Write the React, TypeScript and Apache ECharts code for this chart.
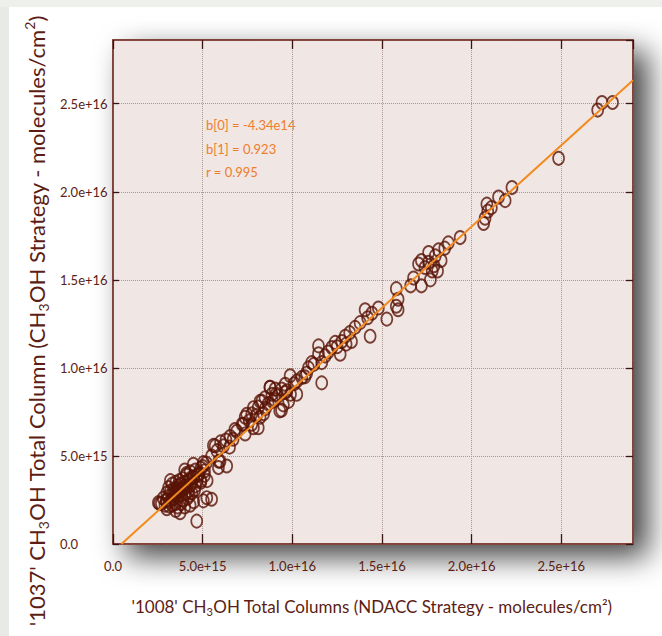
import React, { useEffect, useRef } from "react";
import * as echarts from "echarts";

// values in units of 1e15 molecules/cm2 : [NDACC '1008', CH3OH strategy '1037']
const SCALE = 1e15;
const clusterLow: number[][] = [
  [2.53, 2.35], [2.6, 2.3], [3.0, 2.0], [2.7, 2.3], [2.8, 2.6], [2.9, 2.2], [3.0, 2.5], [3.0, 2.9],
  [3.1, 2.7], [3.1, 3.2], [3.2, 2.4], [3.2, 3.0], [3.3, 2.8], [3.3, 3.4], [3.4, 2.6], [3.4, 3.1],
  [3.5, 2.9], [3.5, 3.5], [3.6, 2.7], [3.6, 3.3], [3.7, 3.0], [3.7, 3.6], [3.8, 2.8], [3.8, 3.4],
  [3.9, 3.1], [3.9, 3.7], [4.0, 2.9], [4.0, 3.5], [4.1, 3.2], [4.1, 3.9], [4.2, 3.0], [4.2, 3.6],
  [4.3, 3.3], [4.3, 4.1], [4.4, 3.5], [4.4, 2.9], [4.5, 3.8], [4.6, 3.3], [4.6, 4.2], [4.7, 3.6],
  [4.8, 4.0], [4.9, 3.5], [5.0, 4.4], [5.1, 3.9], [5.2, 4.6], [3.5, 2.3], [3.9, 2.5], [3.2, 3.6],
  [4.0, 4.2], [3.5, 1.9], [4.0, 2.1], [4.5, 2.4], [4.3, 2.2], [3.74, 1.78], [4.67, 1.3],
  [5.23, 2.63], [5.5, 2.54], [5.04, 2.45], [5.04, 4.62], [4.9, 4.3], [5.1, 4.15], [4.48, 4.53],
  [4.9, 3.6], [5.25, 3.6], [4.5, 3.8], [4.1, 4.0], [5.7, 5.57], [5.8, 5.3], [5.97, 4.7],
  [6.34, 4.43], [5.88, 4.34], [5.9, 4.7], [6.16, 5.57], [6.3, 5.9], [6.7, 5.95], [6.53, 6.1],
  [5.5, 5.0], [5.6, 5.6], [6.0, 5.8], [6.5, 5.5], [3.3, 2.2], [3.6, 2.1], [3.8, 2.3],
  [3.45, 2.75], [3.65, 3.05], [3.85, 3.15], [4.05, 3.3], [4.25, 2.75], [4.35, 3.75], [4.55, 3.05],
  [3.25, 2.55], [3.55, 3.15], [4.15, 2.6], [4.75, 3.9], [2.95, 2.45], [3.15, 2.15],
];
const clusterMid: number[][] = [
  [6.8, 6.5], [6.9, 6.4], [7.2, 6.8], [7.27, 6.8], [7.37, 7.2], [7.46, 7.37], [7.74, 7.39],
  [7.83, 7.74], [7.83, 6.6], [7.74, 6.8], [8.1, 6.6], [7.37, 6.25], [8.2, 7.2], [8.1, 7.77],
  [8.2, 8.1], [8.3, 8.1], [8.48, 8.3], [8.65, 7.96], [8.75, 8.9], [8.76, 8.9], [8.86, 8.5],
  [9.04, 8.8], [9.1, 8.5], [9.2, 8.4], [9.3, 7.56], [9.4, 7.6], [9.4, 8.8], [9.5, 7.9],
  [9.6, 9.07], [9.8, 8.1], [9.88, 9.55], [9.9, 8.5], [10.1, 9.1], [10.25, 9.26], [10.25, 8.5],
  [10.53, 9.46], [10.8, 9.7], [10.9, 10.0], [11.08, 10.3], [11.46, 10.8], [11.46, 11.25],
  [11.64, 10.3], [11.64, 9.15], [11.83, 10.68], [12.2, 11.16], [12.39, 11.45], [12.67, 10.78],
  [12.76, 11.5], [12.95, 11.8], [13.0, 11.35], [13.2, 12.0], [13.3, 11.5], [13.5, 12.3],
  [13.78, 12.57], [14.06, 13.3], [14.2, 12.85], [14.34, 11.8], [14.44, 13.1], [14.8, 13.4],
  [15.27, 12.77], [15.8, 14.5], [15.9, 13.9], [15.8, 13.5], [15.9, 13.3], [11.2, 10.2],
  [12.0, 10.9], [12.5, 11.2], [10.7, 9.5], [9.7, 8.7], [8.9, 8.1], [8.0, 7.3], [8.5, 7.7],
  [9.0, 8.2], [9.6, 8.6], [8.4, 7.4], [7.6, 7.0],
];
const clusterHigh: number[][] = [
  [16.6, 14.66], [16.76, 15.1], [17.04, 15.9], [17.2, 16.1], [17.2, 14.66], [17.4, 15.7],
  [17.6, 16.55], [17.6, 16.0], [17.7, 15.0], [17.8, 15.5], [17.9, 15.8], [17.97, 16.36],
  [18.1, 15.5], [18.15, 16.7], [18.3, 16.1], [18.5, 16.8], [18.7, 17.1], [19.36, 17.4],
  [20.67, 18.2], [20.75, 18.5], [20.85, 19.3], [20.9, 18.9], [21.1, 19.1], [21.5, 19.7],
  [21.87, 19.5], [22.25, 20.24], [24.85, 21.9], [27.03, 24.64], [27.27, 25.07], [27.86, 25.07],
];
const xTicks = [0, 5, 10, 15, 20, 25];
const yTicks = [0, 5, 10, 15, 20, 25];
const X_MAX = 29.0;
const Y_MAX = 28.62;
const B0 = -4.34e14;
const B1 = 0.923;
const R = 0.995;

const fmt = (v: number) => (v === 0 ? "0.0" : v.toExponential(1));

export default function App() {
  const ref = useRef<HTMLDivElement>(null);
  useEffect(() => {
    document.body.style.margin = "0";
    const chart = echarts.init(ref.current!, undefined, { renderer: "svg" });
    const pts = [...clusterLow, ...clusterMid, ...clusterHigh].map((p) => [p[0] * SCALE, p[1] * SCALE]);
    const x0 = -B0 / B1;
    const x1 = X_MAX * SCALE;
    const fitLine = [[x0, 0], [x1, B0 + B1 * x1]];
    const interval = (xTicks[1] - xTicks[0]) * SCALE;
    const font = "Lato, 'Open Sans', sans-serif";
    const txt = "#5b1d14";
    const border = "#7b3a31";
    const axLine = { show: true, onZero: false, lineStyle: { color: border, width: 1.5 } };
    const tickStyle = { show: true, inside: true, lineStyle: { color: "#3a1410", width: 1.3 } };
    const split = { show: true, lineStyle: { color: "#ad9592", type: "dotted" as const, width: 1 } };
    chart.setOption({
      animation: false,
      backgroundColor: "#ffffff",
      grid: {
        left: 113, top: 40, right: 29, bottom: 92, show: true,
        backgroundColor: "#f0e6e4", borderColor: border, borderWidth: 1.5,
        shadowColor: "rgba(0,0,0,0.75)", shadowBlur: 30, shadowOffsetX: 14, shadowOffsetY: 12,
      },
      xAxis: [
        {
          type: "value", min: xTicks[0] * SCALE, max: X_MAX * SCALE, interval, position: "bottom",
          axisLine: axLine, axisTick: { ...tickStyle, length: 10 }, splitLine: split,
          axisLabel: { formatter: fmt, showMaxLabel: false, color: txt, fontSize: 13, fontFamily: font, margin: 15 },
        },
        {
          type: "value", min: xTicks[0] * SCALE, max: X_MAX * SCALE, interval, position: "top",
          axisLine: axLine, axisTick: { ...tickStyle, length: 9 }, splitLine: { show: false },
          axisLabel: { show: false },
        },
      ],
      yAxis: [
        {
          type: "value", min: yTicks[0] * SCALE, max: Y_MAX * SCALE, interval, position: "left",
          axisLine: axLine, axisTick: { ...tickStyle, length: 6 }, splitLine: split,
          axisLabel: { formatter: fmt, showMaxLabel: false, align: "left", color: txt, fontSize: 13, fontFamily: font, margin: 53 },
        },
        {
          type: "value", min: yTicks[0] * SCALE, max: Y_MAX * SCALE, interval, position: "right",
          axisLine: axLine, axisTick: { ...tickStyle, length: 7 }, splitLine: { show: false },
          axisLabel: { show: false },
        },
      ],
      series: [
        {
          type: "scatter", data: pts, symbol: "circle", symbolSize: [11, 13],
          itemStyle: { color: "rgba(0,0,0,0)", borderColor: "#5a1406", borderWidth: 1.8 },
          z: 2,
        },
        {
          type: "line", data: fitLine, showSymbol: false, symbol: "none",
          lineStyle: { color: "#f28a1e", width: 2 }, z: 3,
        },
      ],
      graphic: [
        { type: "rect", shape: { x: 0, y: 0, width: 9, height: 636 }, style: { fill: "#e8eae6" }, z: -10 },
        { type: "rect", shape: { x: 0, y: 0, width: 662, height: 7 }, style: { fill: "#eef0ec" }, z: -10 },
        {
          type: "text", x: 206, y: 125,
          style: { text: `b[0] = ${B0.toExponential(2).replace("e+", "e")}`, fill: "#ef7d2c", fontSize: 13, fontFamily: font, textVerticalAlign: "middle" },
        },
        {
          type: "text", x: 206, y: 149,
          style: { text: `b[1] = ${B1}`, fill: "#ef7d2c", fontSize: 13, fontFamily: font, textVerticalAlign: "middle" },
        },
        {
          type: "text", x: 206, y: 172,
          style: { text: `r = ${R}`, fill: "#ef7d2c", fontSize: 13, fontFamily: font, textVerticalAlign: "middle" },
        },
        {
          type: "text", x: 372, y: 606,
          style: {
            text: "{n|'1008' CH}{s|3}{n|OH Total Columns (NDACC Strategy - molecules/cm²)}",
            textAlign: "center", textVerticalAlign: "middle",
            rich: {
              n: { fontSize: 17, fontFamily: font, fill: txt, lineHeight: 22, verticalAlign: "middle" },
              s: { fontSize: 11, fontFamily: font, fill: txt, lineHeight: 11, verticalAlign: "bottom" },
            },
          },
        },
        {
          type: "text", x: 36, y: 321, rotation: Math.PI / 2,
          style: {
            text: "{n|'1037' CH}{s|3}{n|OH Total Column (CH}{s|3}{n|OH Strategy - molecules/cm}{p|2}{n|)}",
            textAlign: "center", textVerticalAlign: "middle",
            rich: {
              n: { fontSize: 22, fontFamily: font, fill: txt, lineHeight: 28, verticalAlign: "middle" },
              s: { fontSize: 14, fontFamily: font, fill: txt, lineHeight: 14, verticalAlign: "bottom" },
              p: { fontSize: 14, fontFamily: font, fill: txt, lineHeight: 14, verticalAlign: "top" },
            },
          },
        },
      ],
    });
    return () => chart.dispose();
  }, []);
  return <div ref={ref} style={{ position: "fixed", left: 0, top: 0, width: 662, height: 636 }} />;
}
